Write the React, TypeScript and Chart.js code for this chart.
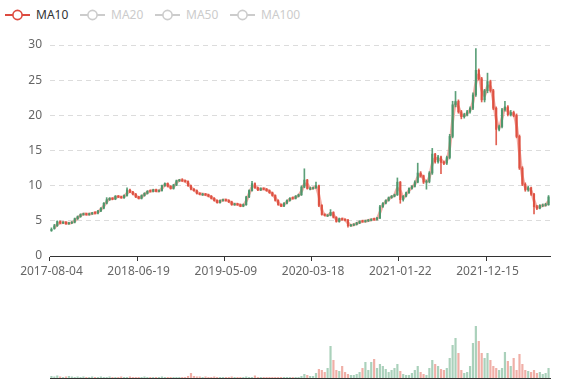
import React, { useEffect, useRef } from 'react';
import { Chart, registerables } from 'chart.js';

Chart.register(...registerables);

const tickLabels = ['2017-08-04', '2018-06-19', '2019-05-09', '2020-03-18', '2021-01-22', '2021-12-15'];
const tickIndex = [0, 30, 60, 90, 120, 150];
const seriesNames = ['MA10', 'MA20', 'MA50', 'MA100'];
const activeSeries = ['MA10'];

const opens = [
  3.6, 3.9, 4.3, 4.9, 4.7, 4.8, 4.6, 4.7, 4.8, 5.3,
  5.6, 5.9, 6.0, 5.9, 6.0, 6.2, 6.1, 6.4, 6.8, 7.5,
  8.0, 8.2, 8.1, 8.5, 8.4, 8.3, 8.6, 9.4, 9.1, 8.8,
  8.4, 8.2, 8.6, 8.9, 9.3, 9.2, 9.4, 9.2, 9.3, 10.0,
  10.3, 9.9, 9.6, 10.1, 10.7, 10.8, 10.7, 10.6, 10.0, 9.5,
  9.3, 8.9, 8.7, 8.8, 8.7, 8.5, 8.2, 7.9, 7.6, 7.9,
  8.0, 7.9, 7.7, 7.3, 7.4, 7.3, 7.1, 7.3, 8.4, 9.3,
  10.3, 9.7, 9.4, 9.6, 9.5, 9.3, 9.0, 8.6, 7.9, 7.3,
  7.1, 7.5, 7.9, 8.3, 8.2, 8.5, 8.7, 9.8, 10.8, 9.5,
  9.6, 9.7, 10.0, 7.2, 5.9, 5.7, 5.8, 6.2, 5.5, 4.9,
  5.3, 5.2, 5.1, 4.3, 4.4, 4.5, 4.7, 5.0, 4.9, 5.0,
  5.1, 5.3, 5.2, 5.4, 7.0, 7.5, 7.9, 8.3, 8.5, 8.7,
  10.5, 8.0, 8.5, 9.0, 9.6, 9.9, 10.5, 11.8, 11.4, 10.5,
  10.6, 11.8, 14.5, 13.4, 14.1, 13.3, 13.2, 14.0, 17.0, 21.5,
  22.0, 20.5, 19.8, 20.1, 20.5, 21.0, 22.9, 26.4, 25.2, 22.2,
  23.5, 24.8, 23.5, 21.0, 18.0, 18.4, 20.8, 21.2, 20.1, 20.4,
  20.0, 17.0, 12.5, 10.2, 9.4, 9.7, 8.8, 7.0, 6.8, 7.2,
  7.2, 7.3,
];

const closes = [
  3.8, 4.3, 4.9, 4.7, 4.8, 4.6, 4.7, 4.8, 5.3, 5.6,
  5.9, 6.0, 5.9, 6.0, 6.1, 6.1, 6.4, 6.8, 7.5, 8.0,
  8.2, 8.1, 8.5, 8.4, 8.3, 8.6, 9.4, 9.1, 8.8, 8.4,
  8.2, 8.6, 8.9, 9.2, 9.2, 9.4, 9.2, 9.3, 10.0, 10.3,
  9.9, 9.6, 10.1, 10.7, 10.8, 10.7, 10.6, 10.0, 9.5, 9.3,
  8.9, 8.8, 8.8, 8.7, 8.5, 8.2, 7.9, 7.6, 7.9, 8.0,
  7.9, 7.7, 7.3, 7.4, 7.3, 7.1, 7.3, 8.4, 9.3, 10.3,
  9.7, 9.4, 9.6, 9.5, 9.3, 9.0, 8.6, 7.9, 7.3, 7.1,
  7.5, 7.9, 8.2, 8.2, 8.5, 8.7, 9.8, 10.8, 9.6, 9.6,
  9.7, 10.0, 7.2, 5.9, 5.8, 5.8, 6.2, 5.5, 4.9, 5.3,
  5.2, 5.1, 4.3, 4.4, 4.5, 4.7, 4.9, 4.9, 5.0, 5.1,
  5.2, 5.2, 5.4, 7.0, 7.5, 7.9, 8.3, 8.5, 8.7, 10.5,
  8.0, 8.5, 9.0, 9.6, 9.9, 10.5, 11.8, 11.4, 10.5, 10.6,
  11.8, 14.5, 13.4, 14.1, 13.3, 13.2, 14.0, 17.0, 21.5, 22.0,
  20.5, 19.8, 20.1, 20.5, 21.0, 22.9, 26.4, 25.2, 22.2, 23.5,
  24.8, 23.5, 21.0, 18.0, 18.4, 20.8, 21.2, 20.1, 20.4, 20.0,
  17.0, 12.5, 10.2, 9.4, 9.7, 8.8, 7.0, 6.8, 7.2, 7.2,
  7.3, 8.4,
];

const highs = [
  4.0, 4.5, 5.0, 5.0, 4.9, 4.9, 4.8, 4.9, 5.4, 5.7,
  6.0, 6.1, 6.1, 6.1, 6.2, 6.3, 6.5, 6.9, 7.6, 8.3,
  8.3, 8.3, 8.6, 8.6, 8.5, 8.7, 9.7, 9.5, 9.2, 8.9,
  8.5, 8.7, 9.0, 9.3, 9.4, 9.5, 9.5, 9.4, 10.1, 10.4,
  10.4, 10.0, 10.2, 10.8, 10.9, 11.0, 10.8, 10.7, 10.1, 9.6,
  9.4, 9.0, 8.9, 8.9, 8.8, 8.6, 8.3, 8.0, 8.0, 8.1,
  8.1, 8.0, 7.8, 7.5, 7.5, 7.4, 7.4, 8.5, 9.4, 10.6,
  10.4, 9.8, 9.7, 9.7, 9.6, 9.4, 9.1, 8.7, 8.0, 7.4,
  7.6, 8.0, 8.3, 8.4, 8.6, 8.8, 10.0, 12.4, 10.9, 9.8,
  9.8, 10.5, 10.1, 7.3, 6.0, 5.9, 6.6, 6.3, 5.6, 5.4,
  5.4, 5.3, 5.2, 4.5, 4.6, 4.8, 5.0, 5.1, 5.1, 5.2,
  5.3, 5.4, 5.5, 7.2, 7.6, 8.0, 8.4, 8.6, 8.8, 11.1,
  10.6, 8.6, 9.1, 9.7, 10.0, 10.7, 13.2, 12.0, 11.5, 10.8,
  12.0, 15.3, 14.6, 14.3, 14.2, 13.5, 14.2, 17.3, 22.0, 23.4,
  22.2, 20.7, 20.3, 20.7, 21.2, 23.2, 29.5, 26.6, 25.4, 23.7,
  26.0, 25.0, 23.7, 21.2, 18.6, 21.0, 22.0, 21.4, 20.7, 20.6,
  20.2, 17.2, 12.7, 10.4, 9.9, 9.8, 8.9, 7.2, 7.3, 7.4,
  7.5, 8.6,
];

const lows = [
  3.5, 3.8, 4.2, 4.6, 4.6, 4.5, 4.5, 4.6, 4.7, 5.2,
  5.5, 5.8, 5.8, 5.8, 5.9, 6.0, 6.0, 6.3, 6.7, 7.4,
  7.9, 8.0, 8.0, 8.3, 8.2, 8.2, 8.5, 9.0, 8.7, 8.3,
  8.1, 8.1, 8.5, 8.8, 9.1, 9.1, 9.1, 9.1, 9.2, 9.9,
  9.8, 9.5, 9.5, 10.0, 10.6, 10.6, 10.5, 9.9, 9.4, 9.2,
  8.8, 8.7, 8.6, 8.6, 8.4, 8.1, 7.8, 7.5, 7.5, 7.8,
  7.8, 7.6, 7.2, 7.2, 7.2, 7.0, 7.0, 7.2, 8.3, 9.2,
  9.6, 9.3, 9.3, 9.4, 9.2, 8.9, 8.5, 7.8, 7.2, 7.0,
  7.0, 7.4, 7.8, 8.1, 8.1, 8.4, 8.6, 9.7, 9.5, 9.4,
  9.5, 9.6, 7.0, 5.8, 5.7, 5.6, 5.7, 5.4, 4.8, 4.8,
  5.1, 5.0, 4.1, 4.2, 4.3, 4.4, 4.6, 4.8, 4.8, 4.9,
  5.0, 5.1, 5.1, 5.3, 6.9, 7.4, 7.8, 8.2, 8.4, 8.6,
  7.5, 7.8, 8.4, 8.9, 9.5, 9.8, 10.4, 11.2, 10.3, 9.5,
  10.4, 11.6, 13.2, 13.2, 11.7, 13.0, 13.0, 13.8, 16.8, 21.2,
  20.3, 19.5, 19.6, 19.9, 20.3, 20.8, 22.7, 25.0, 21.9, 21.9,
  23.2, 23.3, 20.8, 15.8, 17.8, 18.2, 20.6, 19.9, 19.9, 19.8,
  16.8, 12.3, 10.0, 9.2, 9.2, 8.6, 6.0, 6.6, 6.7, 7.0,
  7.1, 7.2,
];

const ma10 = [
  null, 4.0, 4.5, 4.7, 4.75, 4.7, 4.65, 4.75, 5.0, 5.4,
  5.75, 5.95, 5.95, 5.95, 6.05, 6.1, 6.25, 6.6, 7.1, 7.7,
  8.1, 8.15, 8.3, 8.45, 8.35, 8.45, 8.9, 9.2, 8.95, 8.6,
  8.3, 8.4, 8.75, 9.05, 9.2, 9.3, 9.3, 9.25, 9.6, 10.1,
  10.1, 9.75, 9.85, 10.4, 10.75, 10.75, 10.65, 10.3, 9.75, 9.4,
  9.1, 8.85, 8.8, 8.75, 8.6, 8.35, 8.05, 7.75, 7.75, 7.95,
  7.95, 7.8, 7.5, 7.35, 7.35, 7.2, 7.2, 7.8, 8.85, 9.8,
  10.0, 9.55, 9.5, 9.55, 9.4, 9.15, 8.8, 8.25, 7.6, 7.2,
  7.3, 7.7, 8.05, 8.2, 8.35, 8.6, 9.2, 10.2, 10.2, 9.6,
  9.65, 9.85, 8.6, 6.6, 5.85, 5.8, 6.0, 5.85, 5.2, 5.1,
  5.25, 5.15, 4.7, 4.35, 4.45, 4.6, 4.8, 4.9, 4.95, 5.05,
  5.15, 5.2, 5.3, 6.2, 7.25, 7.7, 8.1, 8.4, 8.6, 9.6,
  9.25, 8.25, 8.75, 9.3, 9.75, 10.2, 11.15, 11.6, 10.95, 10.55,
  11.2, 13.1, 13.9, 13.75, 13.7, 13.25, 13.6, 15.5, 19.2, 21.7,
  21.2, 20.1, 19.95, 20.3, 20.75, 21.9, 24.6, 25.8, 23.7, 22.8,
  24.1, 24.1, 22.2, 19.5, 18.2, 19.6, 21.0, 20.6, 20.25, 20.2,
  18.5, 14.7, 11.3, 9.8, 9.55, 9.25, 7.9, 6.9, 7.0, 7.2,
  7.25, 7.8,
];

const volumes = [
  2, 1.5, 2.5, 1.5, 1, 1.5, 2, 1.5, 1, 1.5,
  1, 1.5, 1, 1, 1.5, 1, 1, 1.5, 1, 1,
  1.5, 1, 1, 1, 1.5, 1, 1, 1.5, 1, 1,
  1, 1, 1.5, 1, 1, 1, 1, 1, 1.5, 1,
  1, 1, 1, 1, 1, 1, 1, 2, 5, 2,
  1.5, 1.5, 1, 1.5, 1, 1, 1.5, 1, 1, 1,
  1, 1, 1.5, 1, 1, 1, 1, 1.5, 1, 1,
  2.5, 1, 1, 1, 1, 1, 1, 1, 1, 1,
  1, 1, 1, 1, 1, 1, 2, 4, 3, 2,
  2, 5, 9, 8, 6, 10, 32, 18, 8, 7,
  12, 6, 4, 3, 3, 4, 6, 10, 16, 8,
  16, 19, 10, 14, 12, 9, 6, 8, 10, 14,
  7, 4, 3, 3, 5, 8, 12, 6, 4, 3,
  10, 18, 14, 12, 9, 8, 10, 20, 33, 40,
  25, 8, 5, 6, 12, 35, 52, 37, 25, 20,
  25, 18, 12, 10, 8, 10, 26, 17, 12, 20,
  8, 24, 14, 8, 7, 6, 8, 5, 6, 4,
  5, 10,
];

const UP = 'rgba(74,150,106,0.9)';
const DOWN = 'rgba(222,80,64,0.9)';
const UP_VOL = 'rgba(86,163,119,0.5)';
const DOWN_VOL = 'rgba(226,96,79,0.5)';
const FONT = "'Noto Sans', sans-serif";

function isUp(i: number) {
  return closes[i] >= opens[i];
}

function LegendIcon({ color }: { color: string }) {
  return (
    <svg width={25} height={14} style={{ display: 'block' }}>
      <line x1={0} y1={7} x2={25} y2={7} stroke={color} strokeWidth={2} />
      <circle cx={12.5} cy={7} r={4.6} fill="#fff" stroke={color} strokeWidth={1.6} />
    </svg>
  );
}

export default function App() {
  const priceRef = useRef<HTMLCanvasElement | null>(null);
  const volRef = useRef<HTMLCanvasElement | null>(null);

  useEffect(() => {
    const labels = closes.map((_, i) => String(i));
    const candleColors = closes.map((_, i) => (isUp(i) ? UP : DOWN));
    const volColors = closes.map((_, i) => (isUp(i) ? UP_VOL : DOWN_VOL));

    const price = new Chart(priceRef.current as HTMLCanvasElement, {
      type: 'bar',
      data: {
        labels,
        datasets: [
          {
            type: 'bar',
            label: 'body',
            data: opens.map((o, i) => [Math.min(o, closes[i]), Math.max(o, closes[i])]),
            backgroundColor: candleColors,
            barThickness: 1.5,
            grouped: false,
            borderSkipped: false,
            order: 0,
          } as any,
          {
            type: 'bar',
            label: 'wick',
            data: lows.map((l, i) => [l, highs[i]]),
            backgroundColor: candleColors,
            barThickness: 1,
            grouped: false,
            borderSkipped: false,
            order: 1,
          } as any,
          {
            type: 'line',
            label: 'MA10',
            data: ma10,
            borderColor: 'rgba(236,120,108,0.6)',
            borderWidth: 3,
            pointRadius: 0,
            tension: 0.25,
            spanGaps: true,
            order: 2,
          } as any,
        ],
      },
      options: {
        responsive: false,
        animation: false,
        devicePixelRatio: 1,
        events: [],
        layout: { padding: { left: 0, right: 27, top: 45, bottom: 0 } },
        plugins: { legend: { display: false }, tooltip: { enabled: false } },
        scales: {
          x: {
            type: 'category',
            offset: true,
            afterFit: (s: any) => {
              s.height = 34;
            },
            grid: {
              display: true,
              offset: true,
              drawOnChartArea: false,
              drawTicks: true,
              tickLength: 5,
              tickWidth: 1,
              color: 'rgba(0,0,0,0)',
              tickColor: (ctx: any) => (tickIndex.includes(ctx.index) ? '#333' : 'rgba(0,0,0,0)'),
            },
            border: { display: true, color: '#333', width: 1 },
            ticks: {
              autoSkip: false,
              maxRotation: 0,
              minRotation: 0,
              padding: 3,
              color: '#666',
              font: { size: 12, family: FONT },
              callback: (_v: any, i: number) => {
                const k = tickIndex.indexOf(i);
                return k >= 0 ? tickLabels[k] : '';
              },
            },
          },
          y: {
            min: 0,
            max: 30,
            afterFit: (s: any) => {
              s.width = 50;
            },
            grid: { color: '#dcdcdc', drawTicks: false, lineWidth: 1 },
            border: { display: false, dash: [5, 4] },
            ticks: {
              stepSize: 5,
              padding: 8,
              color: '#666',
              font: { size: 12, family: FONT },
            },
          },
        },
      } as any,
    });

    const vol = new Chart(volRef.current as HTMLCanvasElement, {
      type: 'bar',
      data: {
        labels,
        datasets: [
          {
            label: 'Volume',
            data: volumes,
            backgroundColor: volColors,
            barPercentage: 0.75,
            categoryPercentage: 1,
            borderSkipped: false,
          } as any,
        ],
      },
      options: {
        responsive: false,
        animation: false,
        devicePixelRatio: 1,
        events: [],
        layout: { padding: { left: 50, right: 27, top: 28, bottom: 8 } },
        plugins: { legend: { display: false }, tooltip: { enabled: false } },
        scales: {
          x: {
            display: true,
            offset: true,
            afterFit: (s: any) => {
              s.height = 0;
            },
            grid: { display: false, drawTicks: false },
            border: { display: true, color: '#333', width: 1 },
            ticks: { display: false },
          },
          y: { display: false, min: 0, max: 60 },
        },
      } as any,
    });

    return () => {
      price.destroy();
      vol.destroy();
    };
  }, []);

  const legendX = [5, 80, 155, 230];

  return (
    <div style={{ position: 'fixed', left: 0, top: 0, width: 577, height: 386, background: '#fff', fontFamily: FONT }}>
      {seriesNames.map((name, k) => {
        const active = activeSeries.includes(name);
        const color = active ? '#dd4a3f' : '#cccccc';
        return (
          <div key={name} style={{ position: 'absolute', left: legendX[k], top: 8, height: 14, display: 'flex', alignItems: 'center' }}>
            <LegendIcon color={color} />
            <span style={{ marginLeft: 6, fontSize: 12, lineHeight: '14px', color: active ? '#333' : '#ccc', whiteSpace: 'nowrap' }}>{name}</span>
          </div>
        );
      })}
      <canvas ref={priceRef} width={577} height={290} style={{ position: 'absolute', left: 0, top: 0, width: 577, height: 290 }} />
      <canvas ref={volRef} width={577} height={96} style={{ position: 'absolute', left: 0, top: 290, width: 577, height: 96 }} />
    </div>
  );
}
